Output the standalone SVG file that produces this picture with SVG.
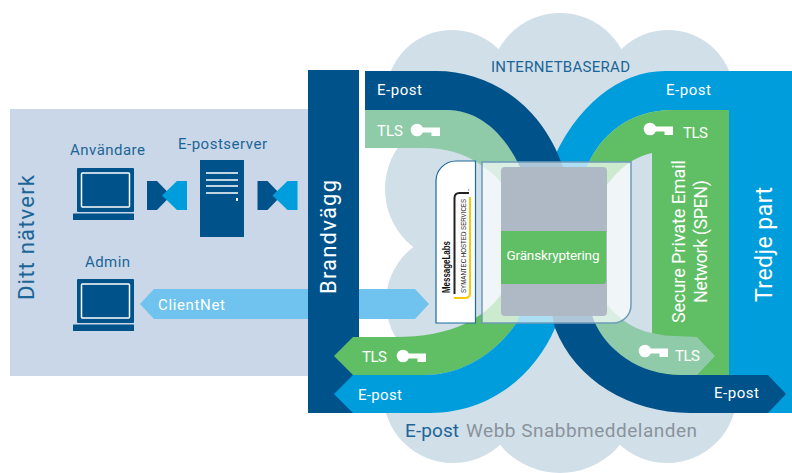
<svg xmlns="http://www.w3.org/2000/svg" xmlns:xlink="http://www.w3.org/1999/xlink" width="792" height="473" viewBox="0 0 792 473">
<style>
text{font-family:Roboto,"Noto Sans","Liberation Sans",sans-serif;}
.w{fill:#fff;font-size:15px;}
.d{fill:#1c6597;font-size:15px;}
.dark{fill:#00538a;}
.blue{fill:#009ddc;}
.green{fill:#60be64;}
.lg{fill:#8fcba8;}
.lb{fill:#6fc3ee;}
.cl{fill:#d1dfe9;}
</style>
<defs>
<g id="key" fill="#fff"><circle cx="0" cy="0" r="6.300"/><path d="M4,-2.500H23V6H14.500V2.500H4Z"/></g>
<g id="laptop"><rect x="0" y="0" width="57" height="44" rx="1" class="dark"/><rect x="4.500" y="5" width="48" height="34" rx="1" fill="none" stroke="#fff" stroke-width="1.500"/><rect x="-4" y="45.500" width="61" height="6.500" rx="0.500" class="dark"/></g>
<g id="bow"><path class="dark" d="M0,0H10L24,14.500L10,29H0Z"/><path class="blue" d="M40,0H30L15,14.500L30,29H40Z"/></g>
</defs>
<rect width="792" height="473" fill="#fff"/>
<g id="cloud" class="cl">
<circle cx="452" cy="96" r="66"/><circle cx="560" cy="83" r="70"/><circle cx="668" cy="96" r="66"/>
<circle cx="459" cy="189" r="74"/><circle cx="455" cy="302" r="69"/>
<circle cx="453" cy="393" r="70"/><circle cx="560" cy="395" r="78"/><circle cx="667" cy="393" r="70"/>
<rect x="430" y="90" width="270" height="310"/>
</g>
<rect id="network-panel" x="10" y="109" width="298" height="267" fill="#c9d7e8"/>
<g id="connectors">
<path id="clientnet-arrow" class="lb" d="M140,304L154,289H415L429,304L415,319H154Z"/>
<path id="blue-column" class="blue" d="M792,71H665C620,71 575,105 550,167L587,167C600,135 630,110 672,110H729V413H792Z"/>
<path id="green-column" class="green" d="M729,110H672C630,110 600,135 587,167L590,200L600,195C615,172 630,158 652,153V375H729Z"/>
<path id="tls-left-top" class="lg" d="M365,110H447C480,110 505,135 520,167L525,200L510,195C495,170 465,148 425,148H365Z"/>
<path id="tls-right-bottom" class="lg" d="M697,337L715,356L697,375H680C640,375 605,350 593,318L600,295C615,318 635,330 652,333L665,335.500Z"/>
<path id="tls-left-bottom" class="green" d="M334,356L353,337H395C450,337 490,320 510,280L530,300L517,322C495,355 460,375 425,375H353Z"/>
<path id="epost-left-bottom" class="blue" d="M334,394L353,375H425C460,375 495,355 517,322L525,300L560,300L555,328C535,375 490,413 430,413H353Z"/>
<path id="epost-dark" class="dark" d="M365,71H437C485,71 540,100 563,167L593,318C605,350 640,375 680,375H768L786,394L768,413H690C630,413 575,380 555,328L520,167C505,135 480,110 447,110H365Z"/>
</g>
<rect id="firewall" x="308" y="70" width="51" height="343" class="dark"/>
<path id="bottom-arrow-tips" class="green" d="M334,356L353,337H359V375H353Z"/>
<path class="blue" d="M334,394L353,375H359V413H353Z"/>
<g id="messagelabs">
<path d="M436,323V181A20,20 0 0 1 456,161H475.500V323Z" fill="#fff" stroke="#1d6a9b" stroke-width="1.200"/>
<text transform="translate(449.500,293) rotate(-90)" font-size="10" font-weight="700" fill="#111" textLength="52" lengthAdjust="spacingAndGlyphs" style="font-family:'Liberation Sans',sans-serif">MessageLabs</text>
<text transform="translate(466,293) rotate(-90)" font-size="8" fill="#222" textLength="94" lengthAdjust="spacingAndGlyphs" style="font-family:'Liberation Sans',sans-serif">SYMANTEC HOSTED SERVICES</text>
<path d="M454.500,294V198Q454.500,193 459.500,193H469" fill="none" stroke="#222" stroke-width="2"/>
<path d="M470,197V293Q470,298 465,298H454" fill="none" stroke="#fdc800" stroke-width="2"/>
<text transform="translate(471,191) rotate(-90)" font-size="4" fill="#222">™</text>
</g>
<g id="encryption-box">
<path d="M482,162H631V305A18,18 0 0 1 613,323H482Z" fill="#fff" fill-opacity="0.68" stroke="#6e9bb9" stroke-width="1.500"/>
<rect x="501" y="167" width="106" height="149" rx="4" fill="#afb9c6"/>
<path d="M501,231H606V281A3,3 0 0 1 603,284H501Z" class="green"/>
<text x="553" y="260" class="w" text-anchor="middle" style="font-size:13.500px" textLength="93" lengthAdjust="spacing">Gränskryptering</text>
</g>
<g id="users">
<use xlink:href="#laptop" href="#laptop" x="77" y="168"/>
<text x="70" y="155" class="d" textLength="75" lengthAdjust="spacing">Användare</text>
</g>
<g id="admin">
<use xlink:href="#laptop" href="#laptop" x="77" y="279"/>
<text x="85" y="267" class="d" textLength="45" lengthAdjust="spacing">Admin</text>
</g>
<g id="server">
<rect x="200" y="160" width="44" height="77" class="dark"/>
<path d="M206,173H238M206,180H238M206,186H238M206,193H238" stroke="#fff" stroke-width="1.500"/>
<rect x="236" y="198" width="2" height="3" fill="#fff"/>
<text x="178" y="149" class="d" textLength="89" lengthAdjust="spacing">E-postserver</text>
</g>
<use xlink:href="#bow" href="#bow" x="147" y="181"/>
<use xlink:href="#bow" href="#bow" x="257.500" y="181"/>
<g id="labels">
<text x="158" y="310" class="w" textLength="67" lengthAdjust="spacing">ClientNet</text>
<text transform="translate(34,300) rotate(-90)" fill="#1c6597" font-size="22" textLength="125" lengthAdjust="spacing">Ditt nätverk</text>
<text transform="translate(336,294) rotate(-90)" fill="#fff" font-size="22" textLength="114" lengthAdjust="spacing">Brandvägg</text>
<text transform="translate(772,302) rotate(-90)" fill="#fff" font-size="23" textLength="115" lengthAdjust="spacing">Tredje part</text>
<text transform="translate(685,323) rotate(-90)" fill="#fff" font-size="18" textLength="163" lengthAdjust="spacing">Secure Private Email</text>
<text transform="translate(707,303) rotate(-90)" fill="#fff" font-size="18" textLength="123" lengthAdjust="spacing">Network (SPEN)</text>
<text x="491" y="72" class="d" textLength="139" lengthAdjust="spacing">INTERNETBASERAD</text>
<text x="405" y="437" font-size="19" fill="#1c6597" textLength="54" lengthAdjust="spacing">E-post</text>
<text x="466" y="437" font-size="19" fill="#8a939c" textLength="231" lengthAdjust="spacing">Webb Snabbmeddelanden</text>
<text x="377" y="95" class="w" textLength="45" lengthAdjust="spacing">E-post</text>
<text x="666" y="95" class="w" textLength="45" lengthAdjust="spacing">E-post</text>
<text x="358" y="400" class="w" textLength="44" lengthAdjust="spacing">E-post</text>
<text x="714" y="398" class="w" textLength="45" lengthAdjust="spacing">E-post</text>
<text x="377" y="136" class="w" textLength="26" lengthAdjust="spacing">TLS</text>
<text x="683" y="138" class="w" textLength="25" lengthAdjust="spacing">TLS</text>
<text x="362" y="362" class="w" textLength="25" lengthAdjust="spacing">TLS</text>
<text x="675" y="361" class="w" textLength="25" lengthAdjust="spacing">TLS</text>
<use xlink:href="#key" href="#key" x="417" y="130"/>
<use xlink:href="#key" href="#key" x="650" y="129"/>
<use xlink:href="#key" href="#key" x="403" y="356"/>
<use xlink:href="#key" href="#key" x="645" y="351"/>
</g>
</svg>
